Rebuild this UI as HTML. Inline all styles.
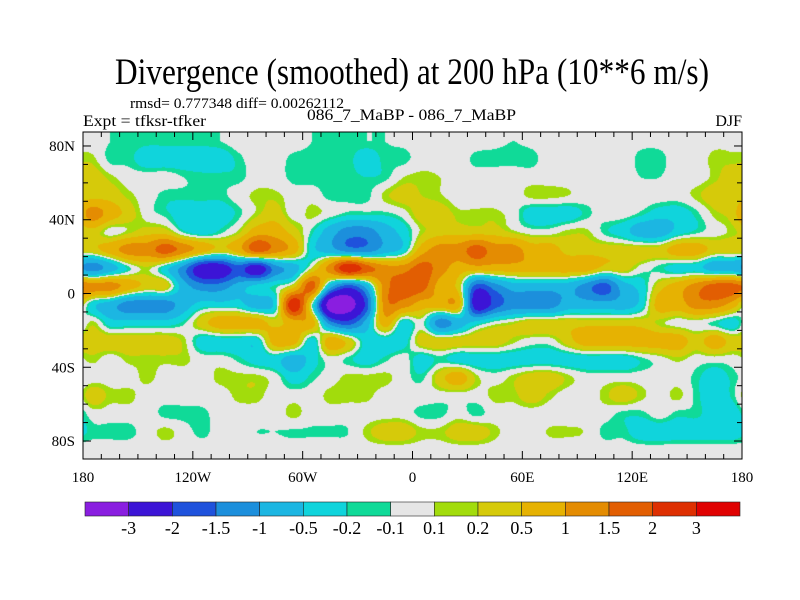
<!DOCTYPE html>
<html><head><meta charset="utf-8"><style>
body{margin:0;background:#fff;}
#wrap{position:relative;width:800px;height:600px;overflow:hidden;}
#field{position:absolute;left:83px;top:132px;}
svg{position:absolute;left:0;top:0;}
text{font-family:"Liberation Serif",serif;fill:#000;}
</style></head><body>
<div id="wrap">
<canvas id="field" width="659" height="327"></canvas>
<svg id="ov" width="800" height="600">
<text x="412" y="84" font-size="37" text-anchor="middle" textLength="594" lengthAdjust="spacingAndGlyphs">Divergence (smoothed) at 200 hPa (10**6 m/s)</text>
<text x="130" y="108" font-size="15" textLength="214" lengthAdjust="spacingAndGlyphs">rmsd= 0.777348 diff= 0.00262112</text>
<text x="83" y="126" font-size="16" textLength="123" lengthAdjust="spacingAndGlyphs">Expt = tfksr-tfker</text>
<text x="307" y="120" font-size="16" textLength="209" lengthAdjust="spacingAndGlyphs">086_7_MaBP - 086_7_MaBP</text>
<text x="742" y="126" font-size="16" text-anchor="end">DJF</text>
<rect x="83" y="132" width="659" height="327" fill="none" stroke="#000" stroke-width="1"/>
<g id="ticks"></g>
<g id="xlabels"></g>
<g id="ylabels"></g>
<g id="cbar"></g>
</svg>
</div>
<script>
const xTickLabels = ["180","120W","60W","0","60E","120E","180"];
const yTickLabels = ["80N","40N","0","40S","80S"];
const yTickLats = [80,40,0,-40,-80];
const levelBounds = [-3,-2,-1.5,-1,-0.5,-0.2,-0.1,0.1,0.2,0.5,1,1.5,2,3];
const levelLabels = ["-3","-2","-1.5","-1","-0.5","-0.2","-0.1","0.1","0.2","0.5","1","1.5","2","3"];
const levelColors = ["#8a1ee0","#3c14d6","#1f52dc","#1c8fdc","#1cb6e2","#10d4dc","#10da98","#e6e6e6","#a2dc0c","#d6ca0a","#e6b202","#e48c02","#e25e02","#de3002","#e00202"];
// grid: 36 longitude columns (10 deg, 180W..180E), 18 rows from north to south
const row00 = [0,-0.1,-0.12,-0.15,-0.15,-0.15,-0.15,-0.1,0,0,0,0,-0.1,-0.15,-0.12,-0.1,-0.1,-0.05,0,0,0,0,-0.05,-0.1,-0.05,0,0,0,0,0,-0.05,-0.05,0,0,0.05,0.05];
const row01 = [0.15,-0.15,-0.15,-0.35,-0.35,-0.35,-0.35,-0.35,-0.15,0,0,-0.15,-0.15,-0.15,-0.15,-0.35,-0.15,-0.15,0,0,0,-0.15,-0.15,-0.15,-0.15,0,0,0,0,0,-0.15,-0.15,0,0,0.15,0.15];
const row02 = [0.35,0.15,0,0,0,-0.1,-0.15,-0.15,-0.15,0,0,-0.15,-0.15,-0.15,-0.15,-0.2,-0.15,0.1,0.15,0.1,0,0,0,0,0,0,0,0,0,0,-0.1,-0.1,0,0,0.15,0.35];
const row03 = [0.35,0.35,0.15,0,-0.15,-0.15,-0.15,-0.15,0,0.15,0.15,0,0,-0.15,-0.15,-0.15,0.15,0.3,0.2,0.12,0,0,0,0,0.15,0.15,0.1,0,0,0,0,0,0,0.15,0.35,0.35];
const row04 = [1.25,0.75,0.35,0,-0.15,-0.35,-0.35,-0.35,-0.15,0.15,0.35,0,0.15,0,-0.15,-0.15,-0.15,0,0.35,0.35,0.15,0.15,0.15,0,-0.35,-0.35,-0.35,-0.15,0,0,-0.15,-0.35,-0.35,-0.15,0.15,0.35];
const row05 = [0.35,0,0.15,0.35,0.35,-0.15,-0.35,-0.15,0.15,0.75,0.75,0.35,-0.15,-0.75,-1.25,-1.25,-0.75,-0.35,0.15,0.35,0.35,0.35,0.35,0.15,0,0,0.15,0.15,-0.15,-0.35,-0.75,-0.75,-0.35,-0.15,0,0.15];
const row06 = [0.35,0.75,1.25,1.25,1.75,1.25,0.75,0.35,0.75,1.75,1.25,0.75,-0.35,-0.75,-1.25,-1.25,-0.75,-0.35,0.75,1.25,1.25,1.75,1.25,1.25,0.75,0.75,0.35,0.35,0.35,0.35,0.35,0.35,0.75,0.75,0.35,0.35];
const row07 = [-1.25,-0.75,-0.15,0.15,-0.35,-1.25,-2.5,-2.5,-1.75,-2.5,-1.25,-0.75,0.15,1.25,2.5,1.75,1.25,1.25,1.75,1.25,0.75,0.75,0.75,0.75,0.75,0.75,0.75,0.75,0.35,0.35,0,-0.15,-0.35,-0.35,-0.75,-0.75];
const row08 = [1.25,1.25,0.75,0.35,0.35,-0.75,-1.25,-1.25,-0.75,-0.35,-0.15,0.35,1.75,-0.75,-1.75,-0.75,1.25,1.75,1.75,0.75,0.35,-1.75,-1.25,-0.75,-0.75,-0.75,-0.75,-1.25,-1.75,-0.75,-0.35,0.35,0.75,1.25,1.75,1.75];
const row09 = [-0.35,-0.75,-1.25,-1.25,-1.25,-0.75,-0.35,-0.35,-0.35,-0.75,-0.35,2.5,0,-3.5,-3.5,-1.75,1.25,1.25,0.75,0.75,0.75,-2.5,-1.75,-1.25,-1.25,-1.25,-0.75,-0.75,-0.75,-0.75,-0.35,0.75,0.75,1.25,1.25,0.75];
const row10 = [0.15,-0.35,-0.35,-0.35,-0.35,-0.15,0.35,0.75,0.75,0.75,0.35,0.75,0.75,-1.25,-1.75,-0.75,0.75,-0.35,0,-1.25,-0.75,-0.35,0,0.15,0.35,0.35,0.35,0.35,0.35,0.35,0.35,0.15,0,0,-0.15,-0.35];
const row11 = [0.35,0.35,0.35,0.35,0.35,0.15,-0.35,-0.35,-0.35,-0.35,0.75,0.75,-0.35,0.75,0.35,-0.35,-0.35,-0.35,0.35,0.35,0.35,0.35,0.35,0.15,0,0,0.35,0.75,0.75,0.75,0.75,0.75,0.75,0.35,0.75,0.35];
const row12 = [0.15,0,0.15,0.15,0.15,0.15,0,0,-0.15,-0.35,-0.35,-0.75,-0.35,0,-0.15,-0.35,-0.15,0,-0.35,-0.15,-0.35,-0.35,-0.35,-0.35,-0.35,-0.35,-0.35,-0.35,-0.35,-0.35,-0.15,0,0.15,0,0,0];
const row13 = [0,0,0,0.15,0,0,0,0.15,0.15,0.15,0,-0.35,-0.15,0,0.15,0.15,0.15,0,-0.15,0.35,0.75,0.15,0,0.15,0.35,0.35,0.15,0,0,0,0,0,0,-0.15,-0.35,-0.15];
const row14 = [0.35,0.15,0.15,0,0,0,0,0,0.15,0.15,0,0,0,0.15,0.15,0.15,0,0,0,0,0,0,0.15,0.15,0.35,0.15,0,0,0.15,0.35,0.15,0,0.15,-0.15,-0.35,-0.15];
const row15 = [0,0,0,0,-0.15,-0.15,-0.15,0,0,0,0,0.15,0,0,0,0,0,0,-0.15,-0.15,0,-0.15,0,0,0,0,0,0,0,-0.15,-0.15,0,-0.15,-0.15,-0.35,-0.35];
const row16 = [-0.15,-0.15,-0.15,0,0.15,0,-0.15,0,-0.05,-0.1,-0.1,-0.12,-0.12,-0.12,-0.1,0.15,0.35,0.35,0.15,0.15,0.35,0.35,0.15,0,0,0.12,0.12,0.08,-0.15,-0.15,-0.35,-0.35,-0.35,-0.35,-0.35,-0.35];
const row17 = [0,0,0,0,0,0,0,0,0,0,0,0,0,0,0,0,0,0,0,0,0,0,0,0,0,0,0,0,0,0,0,0,0,0,0,0];
const grid = [row00,row01,row02,row03,row04,row05,row06,row07,row08,row09,row10,row11,row12,row13,row14,row15,row16,row17];

const PX0=83, PX1=742, PY0=132, PY1=459;
const xScale = lon => PX0 + (lon+180)/360*(PX1-PX0);
const yScale = lat => 293.5 - lat*1.844;
const NS="http://www.w3.org/2000/svg";

function hexToRgb(h){return [parseInt(h.substr(1,2),16),parseInt(h.substr(3,2),16),parseInt(h.substr(5,2),16)];}
function cr(p0,p1,p2,p3,t){
  return 0.5*((2*p1)+(-p0+p2)*t+(2*p0-5*p1+4*p2-p3)*t*t+(-p0+3*p1-3*p2+p3)*t*t*t);
}

// field (Catmull-Rom smoothed, then contoured into levels)
(function(){
  const cv=document.getElementById('field'); const ctx=cv.getContext('2d');
  const W=cv.width,H=cv.height; const img=ctx.createImageData(W,H);
  const nR=grid.length, nC=grid[0].length;
  const rgbs=levelColors.map(hexToRgb);
  const cl=(v,n)=>Math.max(0,Math.min(n-1,v));
  const g=(r,c)=>grid[cl(r,nR)][((c%nC)+nC)%nC];
  for(let py=0;py<H;py++){
    let gy=(py+0.5)/H*nR-0.5; gy=Math.max(0,Math.min(nR-1,gy));
    const r1=Math.floor(gy), fy=gy-r1;
    for(let px=0;px<W;px++){
      const gx=(px+0.5)/W*nC-0.5;
      const c1=Math.floor(gx), fx=gx-c1;
      const col=[];
      for(let dr=-1;dr<=2;dr++){
        const r=r1+dr;
        col.push(cr(g(r,c1-1),g(r,c1),g(r,c1+1),g(r,c1+2),fx));
      }
      const v=cr(col[0],col[1],col[2],col[3],fy);
      let k=0; while(k<levelBounds.length && v>=levelBounds[k]) k++;
      const c=rgbs[k]; const i=(py*W+px)*4;
      img.data[i]=c[0];img.data[i+1]=c[1];img.data[i+2]=c[2];img.data[i+3]=255;
    }
  }
  ctx.putImageData(img,0,0);
})();

// ticks
const tg=document.getElementById('ticks');
function line(x1,y1,x2,y2){
  const l=document.createElementNS(NS,'line');
  l.setAttribute('x1',x1);l.setAttribute('y1',y1);l.setAttribute('x2',x2);l.setAttribute('y2',y2);
  l.setAttribute('stroke','#000');l.setAttribute('stroke-width','1');
  
  
  tg.appendChild(l);
}
for(let lon=-180;lon<=180;lon+=10){
  const x=xScale(lon), len=(lon%60===0)?8:5;
  line(x,PY0,x,PY0+len); line(x,PY1,x,PY1-len);
}
for(let lat=-80;lat<=80;lat+=10){
  const y=yScale(lat), len=(lat%40===0)?8:5;
  line(PX0,y,PX0+len,y); line(PX1,y,PX1-len,y);
}
const xg=document.getElementById('xlabels');
xTickLabels.forEach((s,i)=>{
  const t=document.createElementNS(NS,'text');
  t.setAttribute('x',xScale(-180+i*60));t.setAttribute('y',482);
  t.setAttribute('font-size','15');t.setAttribute('text-anchor','middle');
  
  
  t.textContent=s; xg.appendChild(t);
});
const yg=document.getElementById('ylabels');
yTickLabels.forEach((s,i)=>{
  const t=document.createElementNS(NS,'text');
  t.setAttribute('x',75);t.setAttribute('y',yScale(yTickLats[i])+5);
  t.setAttribute('font-size','15');t.setAttribute('text-anchor','end');
  
  
  t.textContent=s; yg.appendChild(t);
});
// colorbar
const cb=document.getElementById('cbar');
const CB0=85, CB1=740, bw=(CB1-CB0)/levelColors.length;
levelColors.forEach((c,i)=>{
  const r=document.createElementNS(NS,'rect');
  r.setAttribute('x',CB0+i*bw);r.setAttribute('y',502);r.setAttribute('width',bw);r.setAttribute('height',14);
  r.setAttribute('fill',c);r.setAttribute('stroke','#222');r.setAttribute('stroke-width','0.6');
  
  
  cb.appendChild(r);
});
levelLabels.forEach((s,i)=>{
  const t=document.createElementNS(NS,'text');
  t.setAttribute('x',CB0+(i+1)*bw);t.setAttribute('y',534);
  t.setAttribute('font-size','18');t.setAttribute('text-anchor','middle');
  
  
  t.textContent=s; cb.appendChild(t);
});
</script>
</body></html>
